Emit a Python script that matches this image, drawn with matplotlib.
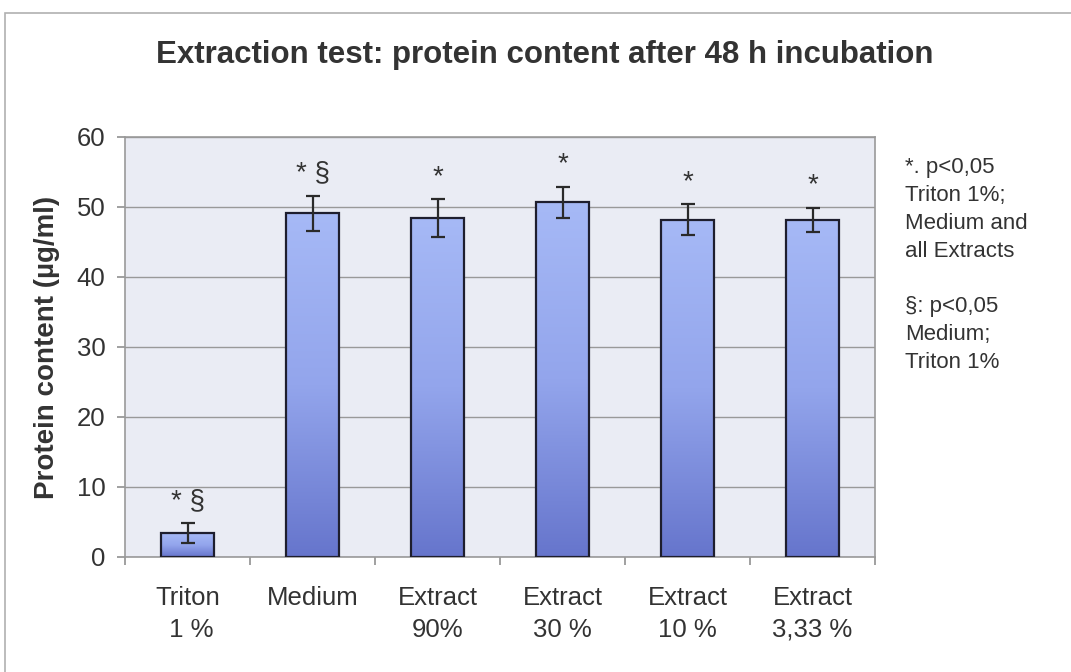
import numpy as np
import matplotlib
matplotlib.use('Agg')
import matplotlib.pyplot as plt
from matplotlib.patches import Rectangle
from matplotlib.colors import LinearSegmentedColormap

plt.rcParams['font.family'] = ['Liberation Sans', 'DejaVu Sans']

groups = ['Triton\n 1 %', 'Medium', 'Extract\n90%', 'Extract\n30 %', 'Extract\n10 %', 'Extract\n3,33 %']
protein = [3.4, 49.1, 48.4, 50.7, 48.2, 48.2]
sd = [1.4, 2.5, 2.7, 2.2, 2.2, 1.7]
marks = ['* §', '* §', '*', '*', '*', '*']
yticks = [0, 10, 20, 30, 40, 50, 60]

note = ("*. p<0,05\nTriton 1%;\nMedium and\nall Extracts\n\n"
        "§: p<0,05\nMedium;\nTriton 1%")

fig = plt.figure(figsize=(10.71, 6.72), dpi=100)
fig.patch.set_facecolor('white')
# outer chart frame
fig.patches.append(Rectangle((5 / 1071, -0.01), 1.2, 1 - 13 / 672 + 0.01,
                             transform=fig.transFigure, fill=False,
                             edgecolor='#b0b0b0', linewidth=1.2))

ax = fig.add_axes([125 / 1071, 1 - 557 / 672, 750 / 1071, 420 / 672])
ax.set_facecolor('#eaecf4')

x = np.arange(len(groups))
bars = ax.bar(x, protein, width=0.42, facecolor='none', edgecolor='#1e1e2e',
              linewidth=1.6, zorder=3)
ax.errorbar(x, protein, yerr=sd, fmt='none', ecolor='#2a2a2a', elinewidth=1.6,
            capsize=5, capthick=1.6, zorder=4)

cmap = LinearSegmentedColormap.from_list('bar', ['#a6b9f6', '#93a5ec', '#6675cc'])
grad = np.linspace(0, 1, 256).reshape(-1, 1)
for b in bars:
    x0, w, h = b.get_x(), b.get_width(), b.get_height()
    im = ax.imshow(grad, cmap=cmap, aspect='auto', extent=(x0, x0 + w, 0, h),
                   origin='upper', zorder=2)
    im.set_clip_path(b)

for xi, m, s, t in zip(x, protein, sd, marks):
    ax.text(xi, m + s + 1.3, t, ha='center', va='bottom', fontsize=20,
            color='#333333', zorder=5)

ax.set_xlim(-0.5, len(groups) - 0.5)
ax.set_ylim(0, 60)
ax.set_yticks(yticks)
ax.set_yticklabels([str(v) for v in yticks], fontsize=18.5, color='#333333')
ax.set_xticks(x)
ax.set_xticklabels(groups, fontsize=18.5, color='#333333', linespacing=1.4)
ax.tick_params(axis='x', length=0, pad=21)
ax.set_xticks(np.arange(-0.5, len(groups)), minor=True)
ax.tick_params(axis='x', which='minor', length=6, color='#909090', width=1.2)
ax.tick_params(axis='y', length=6, color='#909090', width=1.2, pad=8)

ax.yaxis.grid(True, color='#999999', linewidth=1.0)
ax.set_axisbelow(True)
for sp in ax.spines.values():
    sp.set_color('#9a9a9a')
    sp.set_linewidth(1.2)

ax.set_ylabel('Protein content (µg/ml)', fontsize=20, fontweight='bold',
              color='#333333', labelpad=12)
fig.text(545 / 1071, 1 - 55 / 672, 'Extraction test: protein content after 48 h incubation',
         ha='center', va='center', fontsize=22.5, fontweight='bold', color='#333333')
fig.text(905 / 1071, 1 - 157 / 672, note, ha='left', va='top', fontsize=16,
         color='#333333', linespacing=1.43)

fig.savefig('out.png', dpi=100)
